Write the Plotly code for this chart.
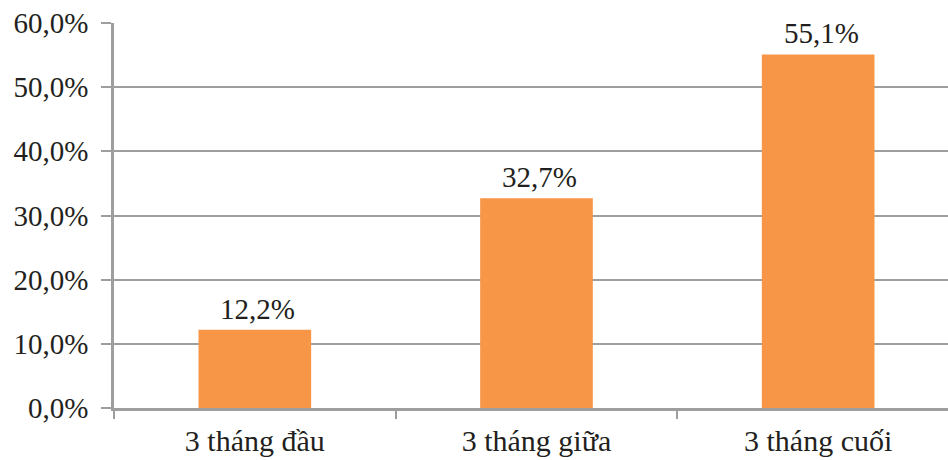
import plotly.graph_objects as go

categories = ["3 tháng đầu", "3 tháng giữa", "3 tháng cuối"]
values = [0.122, 0.327, 0.551]

GRAY = "#9E9E9E"
TEXT = "#231F20"
FONT = "Times New Roman, Liberation Serif, DejaVu Serif, serif"

fig = go.Figure(go.Bar(
    x=categories,
    y=values,
    marker=dict(color="#F79646", line=dict(width=0)),
    hoverinfo="x+y",
))

for c, v in zip(categories, values):
    fig.add_annotation(
        x=c, y=v, text=f"{v * 100:.1f}%".replace(".", ","),
        showarrow=False, yanchor="bottom", xanchor="center",
        yshift=3, xshift=3,
        font=dict(family=FONT, size=29, color=TEXT),
    )

fig.update_layout(
    width=948, height=460,
    margin=dict(l=114, r=0, t=23, b=52),
    paper_bgcolor="white", plot_bgcolor="white",
    separators=",.",
    bargap=0.6,
    showlegend=False,
    font=dict(family=FONT, size=29, color=TEXT),
)
fig.update_xaxes(
    type="category",
    range=[-0.5, 2.461],
    showline=True, linecolor=GRAY, linewidth=2.5,
    ticks="outside", tickson="boundaries", ticklen=8, tickwidth=2, tickcolor=GRAY,
    showgrid=False,
    ticklabelstandoff=4,
    tickfont=dict(family=FONT, size=30, color=TEXT),
)
fig.update_yaxes(
    range=[0, 0.6], dtick=0.1, tickformat=".1%",
    showline=True, linecolor=GRAY, linewidth=2.5,
    showgrid=True, gridcolor=GRAY, gridwidth=2,
    ticks="outside", ticklen=10, tickwidth=2, tickcolor=GRAY,
    zeroline=False,
    ticklabelstandoff=7,
    tickfont=dict(family=FONT, size=29, color=TEXT),
)

fig.write_html("out.html")
